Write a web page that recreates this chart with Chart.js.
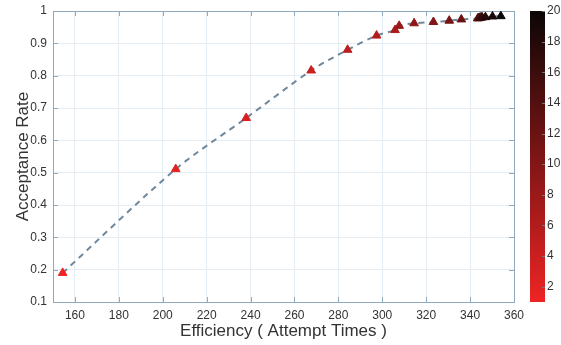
<!DOCTYPE html>
<html>
<head>
<meta charset="utf-8">
<script src="https://cdn.jsdelivr.net/npm/chart.js@4/dist/chart.umd.min.js"></script>
<style>
  html, body { margin: 0; padding: 0; background: #fff; }
  #wrap { width: 561px; height: 345px; position: relative; }
</style>
</head>
<body>
<div id="wrap"><canvas id="c"></canvas></div>
<script>
  'use strict';

  // Values.
  const EFFICIENCY = [154.4, 205.9, 238, 267.6, 284.2, 297.4, 305.8, 307.7, 314.5, 323.3,
    330.5, 336, 343.5, 344, 344.5, 345, 345.5, 347, 350.2, 354];
  const ACCEPTANCE = [0.19, 0.511, 0.669, 0.816, 0.88, 0.924, 0.941, 0.954, 0.962, 0.966,
    0.970, 0.974, 0.977, 0.978, 0.979, 0.980, 0.980, 0.981, 0.983, 0.984];
  const COLOR_INDEX = [1, 2, 3, 4, 5, 6, 7, 8, 9, 10, 11, 12, 13, 14, 15, 16, 17, 18, 19, 20];

  const X_TICKS = [160, 180, 200, 220, 240, 260, 280, 300, 320, 340, 360];
  const Y_TICKS = [0.1, 0.2, 0.3, 0.4, 0.5, 0.6, 0.7, 0.8, 0.9, 1];
  const CB_TICKS = [2, 4, 6, 8, 10, 12, 14, 16, 18, 20];

  const FONT = '"Liberation Sans", Arial, Helvetica, sans-serif';
  const AXIS_COLOR = '#8fa9bd';
  const GRID_COLOR = '#e4edf4';
  const CB_MIN = 1, CB_MAX = 20;

  // red -> black colormap
  function cmap(v) {
    const t = (v - CB_MIN) / (CB_MAX - CB_MIN);
    const r = Math.round(238 * (1 - t) + 12 * t);
    const g = Math.round(36 * (1 - t) + 6 * t);
    const b = Math.round(36 * (1 - t) + 6 * t);
    return `rgb(${r},${g},${b})`;
  }

  const points = EFFICIENCY.map((x, i) => ({ x, y: ACCEPTANCE[i] }));
  const pointColors = COLOR_INDEX.map(cmap);

  function fixTicks(list) {
    return (scale) => { scale.ticks = list.map((v) => ({ value: v })); };
  }

  function fitV(width) {
    return (s) => { s.width = width; s.paddingTop = 0; s.paddingBottom = 0; };
  }

  // box, inward ticks, colorbar, axis titles
  const decor = {
    id: 'decor',
    beforeDatasetsDraw(chart) {
      const { ctx, chartArea: a, scales } = chart;
      ctx.save();
      ctx.strokeStyle = AXIS_COLOR;
      ctx.lineWidth = 1;
      ctx.strokeRect(a.left + 0.5, a.top + 0.5, a.right - a.left, a.bottom - a.top);
      ctx.beginPath();
      X_TICKS.forEach((v) => {
        const px = Math.round(scales.x.getPixelForValue(v)) + 0.5;
        ctx.moveTo(px, a.bottom); ctx.lineTo(px, a.bottom - 5);
        ctx.moveTo(px, a.top); ctx.lineTo(px, a.top + 5);
      });
      Y_TICKS.forEach((v) => {
        const py = Math.round(scales.y.getPixelForValue(v)) + 0.5;
        ctx.moveTo(a.left, py); ctx.lineTo(a.left + 5, py);
        ctx.moveTo(a.right, py); ctx.lineTo(a.right - 5, py);
      });
      ctx.stroke();
      ctx.restore();
    },
    afterDraw(chart) {
      const { ctx, chartArea: a, scales } = chart;
      const cb = scales.cb;
      const x0 = 530, w = 15;
      const yTop = cb.getPixelForValue(CB_MAX);
      const yBot = cb.getPixelForValue(CB_MIN);
      ctx.save();
      const grad = ctx.createLinearGradient(0, yBot, 0, yTop);
      grad.addColorStop(0, cmap(CB_MIN));
      grad.addColorStop(0.5, cmap((CB_MIN + CB_MAX) / 2));
      grad.addColorStop(1, cmap(CB_MAX));
      ctx.fillStyle = grad;
      ctx.fillRect(x0, yTop, w, yBot - yTop);
      ctx.strokeStyle = '#777';
      ctx.beginPath();
      CB_TICKS.forEach((v) => {
        const py = Math.round(cb.getPixelForValue(v)) + 0.5;
        ctx.moveTo(x0 + w, py); ctx.lineTo(x0 + w - 3, py);
      });
      ctx.stroke();

      ctx.fillStyle = '#333';
      ctx.font = '17px ' + FONT;
      ctx.textAlign = 'center';
      ctx.textBaseline = 'middle';
      ctx.fillText('Efficiency ( Attempt Times )', (a.left + a.right) / 2, 331);
      ctx.translate(23, (a.top + a.bottom) / 2);
      ctx.rotate(-Math.PI / 2);
      ctx.fillText('Acceptance Rate', 0, 0);
      ctx.restore();
    },
  };

  new Chart(document.getElementById('c'), {
    type: 'scatter',
    data: {
      datasets: [
        {
          type: 'scatter',
          data: points,
          pointStyle: 'triangle',
          pointRadius: 5,
          pointBackgroundColor: pointColors,
          pointBorderColor: pointColors,
          pointBorderWidth: 1,
          order: 1,
        },
        {
          type: 'line',
          data: points,
          borderColor: '#71879a',
          borderWidth: 2,
          borderDash: [6, 5],
          pointRadius: 0,
          tension: 0.3,
          fill: false,
          order: 2,
        },
      ],
    },
    options: {
      responsive: true,
      maintainAspectRatio: false,
      animation: false,
      layout: { padding: { top: 11, left: 0, right: 0, bottom: 0 } },
      plugins: { legend: { display: false }, tooltip: { enabled: false } },
      scales: {
        x: {
          type: 'linear',
          min: 150, max: 360,
          afterBuildTicks: fixTicks(X_TICKS),
          afterFit(s) { s.height = 43; s.paddingLeft = 0; s.paddingRight = 0; },
          grid: { color: GRID_COLOR, drawTicks: false },
          border: { display: false },
          ticks: { color: '#333', padding: 6, maxRotation: 0, font: { family: FONT, size: 12 } },
        },
        y: {
          type: 'linear',
          min: 0.1, max: 1,
          afterBuildTicks: fixTicks(Y_TICKS),
          afterFit: fitV(53),
          grid: { color: GRID_COLOR, drawTicks: false },
          border: { display: false },
          ticks: {
            color: '#333', padding: 6, font: { family: FONT, size: 12 },
            callback: (v) => String(+v.toFixed(1)),
          },
        },
        cb: {
          type: 'linear',
          position: 'right',
          min: CB_MIN, max: CB_MAX,
          afterBuildTicks: fixTicks(CB_TICKS),
          afterFit: fitV(47),
          grid: { display: false, drawTicks: false },
          border: { display: false },
          ticks: { color: '#333', padding: 33, font: { family: FONT, size: 12 } },
        },
      },
    },
    plugins: [decor],
  });
</script>
</body>
</html>
